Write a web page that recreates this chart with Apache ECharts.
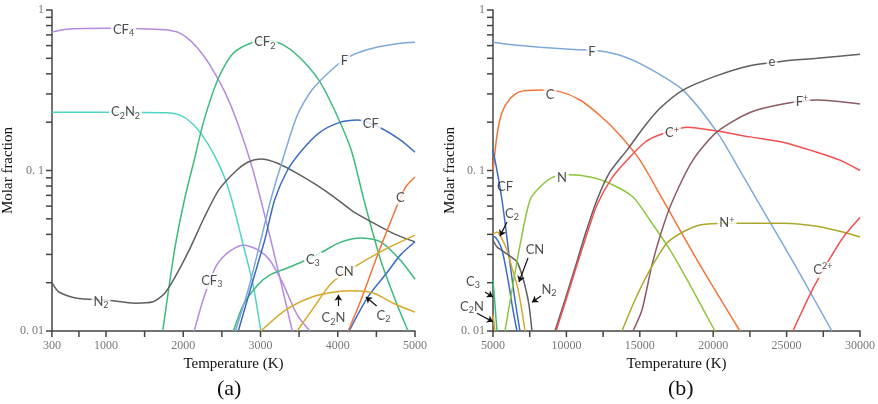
<!DOCTYPE html>
<html>
<head>
<meta charset="UTF-8">
<title>Molar fraction vs temperature</title>
<style>
  html, body { margin: 0; padding: 0; background: #fff; }
  #chart { width: 878px; height: 404px; }
</style>
</head>
<body>
<div id="chart"></div>
<script src="https://cdn.jsdelivr.net/npm/echarts@6/dist/echarts.min.js"></script>
<script>
// axis ticks
const tempLabelsA = [300, 1000, 2000, 3000, 4000, 5000];
const tempTicksA = [300, 650, 1000, 1500, 2000, 2500, 3000, 3500, 4000, 4500, 5000];
const tempLabelsB = [5000, 10000, 15000, 20000, 25000, 30000];
const tempTicksB = [5000, 7500, 10000, 12500, 15000, 17500, 20000, 22500, 25000, 27500, 30000];
const fracLabels = [0.01, 0.1, 1];
const fracLabelText = ['0. 01', '0. 1', '1'];
const fracTicks = [0.01, 0.02, 0.03, 0.04, 0.05, 0.06, 0.07, 0.08, 0.09,
                   0.1, 0.2, 0.3, 0.4, 0.5, 0.6, 0.7, 0.8, 0.9, 1];

// panel (a): [T (K), molar fraction]
const cf4A = [[300,0.73],[490,0.76],[1000,0.77],[1634,0.76],[1800,0.75],[1950,0.72],[2100,0.64],[2250,0.53],[2400,0.41],[2550,0.3],[2700,0.2],[2904,0.1],[3158,0.033],[3412,0.01]];
const cf3A = [[2142,0.01],[2269,0.0163],[2434,0.0258],[2586,0.031],[2777,0.0343],[2967,0.032],[3119,0.0277],[3285,0.02],[3475,0.0126],[3640,0.01]];
const c2n2A = [[300,0.231],[1000,0.231],[1800,0.229],[1950,0.222],[2100,0.2],[2250,0.165],[2400,0.125],[2548,0.087],[2650,0.06],[2777,0.0343],[2904,0.0194],[3005,0.01]];
const cf2A = [[1735,0.01],[1888,0.032],[2015,0.0655],[2142,0.116],[2269,0.206],[2459,0.38],[2650,0.54],[2904,0.63],[3094,0.65],[3285,0.61],[3501,0.51],[3755,0.366],[3958,0.238],[4174,0.134],[4339,0.0655],[4555,0.0277],[4745,0.0156],[4910,0.01]];
const n2A = [[300,0.02],[390,0.0175],[618,0.016],[999,0.0156],[1380,0.0149],[1608,0.0152],[1761,0.0172],[1888,0.0214],[2078,0.032],[2269,0.0506],[2459,0.0755],[2688,0.1],[2840,0.113],[3005,0.118],[3221,0.111],[3475,0.096],[3729,0.081],[3958,0.068],[4212,0.055],[4466,0.047],[4745,0.04],[5000,0.0359]];
const fA = [[2675,0.01],[2840,0.018],[3005,0.037],[3132,0.0655],[3285,0.116],[3475,0.22],[3666,0.317],[3958,0.44],[4174,0.52],[4466,0.58],[4809,0.62],[5000,0.63]];
const cfA = [[2713,0.01],[2904,0.0208],[3056,0.037],[3183,0.0655],[3348,0.1],[3539,0.134],[3755,0.171],[4009,0.198],[4263,0.206],[4555,0.184],[4809,0.155],[5000,0.13]];
const c3A = [[2650,0.01],[2777,0.0145],[2967,0.0194],[3119,0.0223],[3348,0.0247],[3539,0.027],[3793,0.031],[4047,0.0359],[4301,0.038],[4555,0.0359],[4809,0.0277],[5000,0.021]];
const cA = [[4135,0.01],[4301,0.0156],[4491,0.0277],[4682,0.0477],[4872,0.0779],[5000,0.091]];
const c2A = [[4148,0.01],[4390,0.0163],[4644,0.0233],[4809,0.0297],[5000,0.036]];
const c2nA = [[3005,0.01],[3323,0.0135],[3666,0.0163],[3958,0.0175],[4174,0.0178],[4466,0.0172],[4720,0.0149],[5000,0.0131]];
const cnA = [[3475,0.01],[3666,0.0135],[3920,0.0199],[4212,0.025],[4593,0.0319],[5000,0.0396]];

// panel (b)
const fB = [[5000,0.63],[6158,0.61],[8201,0.587],[10244,0.57],[12287,0.555],[13990,0.51],[15692,0.43],[17939,0.317],[20254,0.174],[21821,0.1],[22978,0.0655],[25566,0.0258],[28086,0.01]];
const cB = [[5000,0.098],[5272,0.166],[5613,0.23],[6158,0.28],[6839,0.31],[8201,0.317],[9563,0.31],[10925,0.275],[12287,0.22],[13649,0.166],[15011,0.116],[16577,0.0655],[19097,0.0258],[21821,0.01]];
const cfB = [[5000,0.134],[5272,0.1],[5613,0.0655],[5885,0.0425],[6158,0.0265],[6498,0.0156],[6839,0.01]];
const c2B = [[5000,0.039],[5204,0.038],[5613,0.032],[6022,0.0208],[6362,0.0135],[6634,0.01]];
const cnB = [[5000,0.04],[5272,0.0414],[5477,0.0396],[5953,0.032],[6294,0.0247],[6634,0.0194],[6907,0.0145],[7180,0.01]];
const n2B = [[5000,0.0369],[5272,0.0334],[5681,0.0315],[6158,0.0293],[6634,0.027],[6975,0.0223],[7248,0.018],[7452,0.0145],[7656,0.01]];
const c3B = [[5000,0.0208],[5136,0.0145],[5272,0.01]];
const c2nB = [[5000,0.0126],[5136,0.01]];
const nB = [[5817,0.01],[6294,0.018],[6839,0.0343],[7520,0.0655],[8201,0.079],[9087,0.091],[10244,0.094],[11606,0.091],[12968,0.083],[14535,0.0684],[15692,0.049],[17054,0.032],[18416,0.0194],[20118,0.01]];
const eB = [[9222,0.01],[9903,0.0156],[10584,0.0247],[11265,0.0396],[12082,0.0655],[12968,0.098],[14126,0.134],[15352,0.19],[16373,0.244],[17939,0.317],[20254,0.39],[22501,0.45],[24749,0.48],[27064,0.5],[30000,0.53]];
const cpB = [[9290,0.01],[9971,0.0156],[10652,0.0247],[11333,0.0385],[12082,0.061],[13104,0.09],[14126,0.116],[15352,0.15],[16373,0.167],[18211,0.186],[20254,0.176],[22501,0.162],[24749,0.15],[27064,0.13],[28630,0.116],[30000,0.1]];
const fpB = [[14535,0.01],[15148,0.0135],[15829,0.0258],[16510,0.0426],[17258,0.0655],[18620,0.116],[20254,0.174],[22501,0.23],[24749,0.26],[27064,0.275],[30000,0.26]];
const npB = [[13785,0.01],[14671,0.0156],[15692,0.024],[16850,0.0353],[17939,0.0414],[19097,0.0458],[20935,0.047],[22501,0.047],[24749,0.047],[27064,0.045],[28835,0.0414],[30000,0.0385]];
const c2pB = [[25430,0.01],[26247,0.0145],[26928,0.0194],[28086,0.0297],[28971,0.0396],[30000,0.051]];

// species labels sitting on the curves: [text, T, fraction]
const inlineLabelsA = [['CF{s|4}',1227,0.75],['C{s|2}N{s|2}',1253,0.231],['CF{s|2}',3056,0.63],['F',4085,0.481],['CF',4428,0.195],['C',4809,0.0674],['N{s|2}',935,0.0152],['CF{s|3}',2370,0.0205],['C{s|3}',3678,0.0277],['CN',4085,0.0233]];
const calloutLabelsA = [['C{s|2}N',3945,0.012],['C{s|2}',4593,0.0124]];
const arrowsA = [[[4008,0.0143],[4008,0.0168]],[[4504,0.0143],[4364,0.0163]]];

const inlineLabelsB = [['F',11742,0.547],['C',8882,0.295],['N',9699,0.0898],['e',24000,0.474],['F{p|+}',26043,0.267],['C{p|+}',17190,0.171],['N{p|+}',20935,0.047],['C{p|2+}',27473,0.024]];
const calloutLabelsB = [['CF',5817,0.079],['C{s|2}',6294,0.0536],['CN',7860,0.032],['N{s|2}',8814,0.018],['C{s|3}',3638,0.0202],['C{s|2}N',3570,0.0141]];
const arrowsB = [[[5953,0.0478],[5477,0.039]],[[7384,0.0285],[6771,0.0202]],[[8269,0.0165],[7656,0.0151]],[[4455,0.0175],[5000,0.0163]],[[3910,0.0129],[5000,0.0114]]];

const col = {
    purple: '#b48be0', teal: '#4fd3c4', green: '#3dba7c', gray: '#5f5f5f',
    lightBlue: '#7fa8da', blue: '#3d6cc4', orange: '#f2743a', gold: '#d6a92c',
    lime: '#8cc63f', red: '#f25050', mauve: '#8c5a62', olive: '#a9a82a'
};

const serif = '"Liberation Serif", "DejaVu Serif", serif';
const sans = 'Lato, "Open Sans", sans-serif';

const grids = [
    { left: 45, top: 10, width: 370, height: 321 },
    { left: 493, top: 10, width: 367, height: 321 }
];
const tickLen = 6;

function curve(data, color, idx) {
    return {
        type: 'line', data: data, xAxisIndex: idx, yAxisIndex: idx,
        smooth: 0.25, showSymbol: false, symbol: 'none',
        lineStyle: { color: color, width: 1.5 }, z: 2
    };
}

const rich = {
    s: { fontSize: 9, fontFamily: sans, color: '#222', padding: [7, 0, 0, 0] },
    p: { fontSize: 9, fontFamily: sans, color: '#222', padding: [0, 0, 7, 0] }
};

function labels(list, idx, bg) {
    return {
        type: 'scatter', xAxisIndex: idx, yAxisIndex: idx, clip: false,
        symbolSize: 1, itemStyle: { color: 'rgba(0,0,0,0)' }, z: 10,
        data: list.map(d => [d[1], d[2], d[0]]),
        label: {
            show: true, position: 'inside', formatter: p => p.value[2],
            fontFamily: sans, fontSize: 13, color: '#222',
            backgroundColor: bg ? '#fff' : 'transparent', padding: [0, 2],
            rich: rich
        }
    };
}

function arrows(list, idx) {
    return {
        type: 'lines', coordinateSystem: 'cartesian2d', xAxisIndex: idx, yAxisIndex: idx,
        clip: false, symbol: ['none', 'arrow'], symbolSize: 6, z: 11,
        lineStyle: { color: '#111', width: 1.2, opacity: 1 },
        data: list.map(c => ({ coords: c }))
    };
}

// outward tick marks: short bars centred half a tick length outside the axis lines
function tickMarks(xVals, yVals, idx) {
    const g = grids[idx];
    const xMin = xVals[0], xMax = xVals[xVals.length - 1];
    const halfX = (tickLen / 2) * (xMax - xMin) / g.width;         // half tick, in K
    const halfY = Math.pow(10, -(tickLen / 2) * 2 / g.height);      // half tick, log scale
    const pts = xVals.map(v => [v, 0.01 * halfY, 0])
        .concat(yVals.map(v => [xMin - halfX, v, 1]));
    return {
        type: 'scatter', xAxisIndex: idx, yAxisIndex: idx, clip: false, z: 12, silent: true,
        symbol: 'rect',
        symbolSize: p => p[2] === 0 ? [1.5, tickLen] : [tickLen, 1.5],
        itemStyle: { color: '#444', opacity: 1 },
        data: pts
    };
}

function xAxis(idx, min, max, labelVals) {
    return {
        type: 'value', gridIndex: idx, min: min, max: max,
        name: 'Temperature (K)', nameLocation: 'middle', nameGap: 12,
        nameTextStyle: { fontFamily: serif, fontSize: 15, color: '#111', verticalAlign: 'top' },
        axisLine: { lineStyle: { color: '#444', width: 1.5 } },
        axisTick: { show: false },
        axisLabel: { customValues: labelVals, fontFamily: serif, fontSize: 12, color: '#777', margin: 9,
            formatter: v => String(v) },
        splitLine: { show: false }
    };
}

function yAxis(idx) {
    return {
        type: 'log', logBase: 10, gridIndex: idx, min: 0.01, max: 1,
        name: 'Molar fraction', nameLocation: 'middle', nameGap: 29,
        nameTextStyle: { fontFamily: serif, fontSize: 15, color: '#111' },
        axisLine: { lineStyle: { color: '#444', width: 1.5 } },
        axisTick: { show: false },
        axisLabel: {
            customValues: fracLabels, fontFamily: serif, fontSize: 12, color: '#777', margin: 8,
            formatter: v => fracLabelText[Math.round(Math.log10(v)) + 2]
        },
        splitLine: { show: false }
    };
}

const chart = echarts.init(document.getElementById('chart'));
chart.setOption({
    animation: false,
    backgroundColor: '#fff',
    grid: grids,
    xAxis: [xAxis(0, 300, 5000, tempLabelsA), xAxis(1, 5000, 30000, tempLabelsB)],
    yAxis: [yAxis(0), yAxis(1)],
    graphic: [
        { type: 'text', left: 217, top: 378, style: { text: '(a)', font: '22px ' + serif, fill: '#111' } },
        { type: 'text', left: 668, top: 378, style: { text: '(b)', font: '22px ' + serif, fill: '#111' } }
    ],
    series: [
        curve(cf4A, col.purple, 0), curve(cf3A, col.purple, 0), curve(c2n2A, col.teal, 0),
        curve(cf2A, col.green, 0), curve(c3A, col.green, 0), curve(n2A, col.gray, 0),
        curve(fA, col.lightBlue, 0), curve(cfA, col.blue, 0), curve(c2A, col.blue, 0),
        curve(cA, col.orange, 0), curve(c2nA, col.gold, 0), curve(cnA, col.gold, 0),
        labels(inlineLabelsA, 0, true), labels(calloutLabelsA, 0, false), arrows(arrowsA, 0),
        tickMarks(tempTicksA, fracTicks, 0),

        curve(fB, col.lightBlue, 1), curve(cB, col.orange, 1), curve(cfB, col.blue, 1),
        curve(c2B, col.blue, 1), curve(cnB, col.gold, 1), curve(n2B, col.gray, 1),
        curve(c3B, col.green, 1), curve(c2nB, col.gold, 1), curve(nB, col.lime, 1),
        curve(eB, col.gray, 1), curve(cpB, col.red, 1), curve(fpB, col.mauve, 1),
        curve(npB, col.olive, 1), curve(c2pB, col.red, 1),
        labels(inlineLabelsB, 1, true), labels(calloutLabelsB, 1, false), arrows(arrowsB, 1),
        tickMarks(tempTicksB, fracTicks, 1)
    ]
});
</script>
</body>
</html>
